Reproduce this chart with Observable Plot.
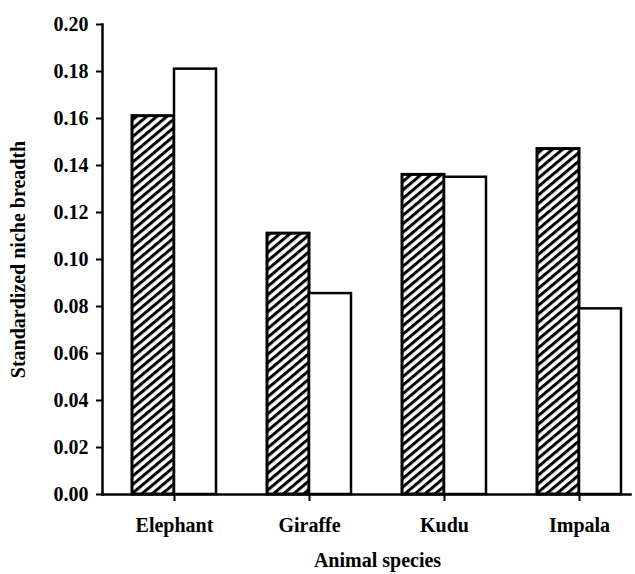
<!DOCTYPE html>
<html>
<head>
<meta charset="utf-8">
<script src="https://cdn.jsdelivr.net/npm/d3@7"></script>
<script src="https://cdn.jsdelivr.net/npm/@observablehq/plot@0.6"></script>
<style>
  html, body { margin: 0; padding: 0; background: #fff; }
</style>
</head>
<body>
<div id="chart"></div>
<script>
const species = ["Elephant", "Giraffe", "Kudu", "Impala"];
const hatchedValues = [0.161, 0.111, 0.136, 0.147];
const openValues = [0.181, 0.0855, 0.135, 0.079];
const yTicks = [0.00, 0.02, 0.04, 0.06, 0.08, 0.10, 0.12, 0.14, 0.16, 0.18, 0.20];
const xLabel = "Animal species";
const yLabel = "Standardized niche breadth";

const hatched = species.map((s, i) => ({species: s, value: hatchedValues[i]}));
const open = species.map((s, i) => ({species: s, value: openValues[i]}));

const font = "'Liberation Serif', 'Times New Roman', serif";

const chart = Plot.plot({
  width: 635,
  height: 574,
  marginTop: 24,
  marginBottom: 80,
  marginLeft: 102,
  marginRight: 5,
  style: {fontFamily: font, fontSize: "20px", fontWeight: "bold", color: "black", background: "white"},
  x: {domain: species, paddingInner: 0.381, paddingOuter: 0.136, align: 0.757, label: null},
  y: {domain: [0, 0.2], label: null},
  marks: [
    Plot.barY(hatched, {x: "species", y: "value", fill: "url(#hatch)", stroke: "black", strokeWidth: 3, insetRight: 42}),
    Plot.barY(open, {x: "species", y: "value", fill: "white", stroke: "black", strokeWidth: 2.5, insetLeft: 42}),
    Plot.frame({anchor: "left", stroke: "black", strokeWidth: 2.5}),
    Plot.frame({anchor: "bottom", stroke: "black", strokeWidth: 2.5}),
    Plot.axisY({ticks: yTicks, tickFormat: d3.format(".2f"), tickSize: 6, tickPadding: 8, strokeWidth: 2, label: null}),
    Plot.axisX({tickSize: 7, tickPadding: 16, strokeWidth: 2, label: null}),
    Plot.text([xLabel], {text: d => d, frameAnchor: "bottom", dy: 72, dx: 11}),
    Plot.text([yLabel], {text: d => d, frameAnchor: "left", textAnchor: "middle", dx: -84, rotate: -90})
  ]
});

const svg = d3.select(chart);
const defs = svg.insert("defs", ":first-child");
const pat = defs.append("pattern")
  .attr("id", "hatch")
  .attr("patternUnits", "userSpaceOnUse")
  .attr("width", 6.5)
  .attr("height", 10)
  .attr("patternTransform", "rotate(50)");
pat.append("rect").attr("width", 6.5).attr("height", 10).attr("fill", "white");
pat.append("rect").attr("x", 0).attr("width", 3).attr("height", 10).attr("fill", "black");

document.getElementById("chart").appendChild(chart);
</script>
</body>
</html>
